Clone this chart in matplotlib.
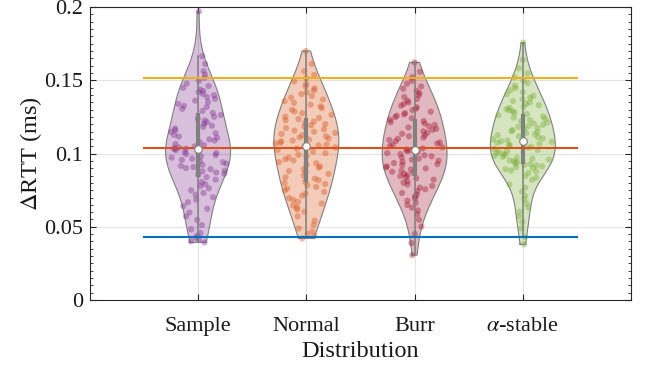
import numpy as np
import matplotlib
matplotlib.use("Agg")
import matplotlib.pyplot as plt
from matplotlib.ticker import MultipleLocator

plt.rcParams['font.family'] = ['Liberation Serif', 'DejaVu Serif']
plt.rcParams['mathtext.fontset'] = 'stix'

categories = ['Sample', 'Normal', 'Burr', r'$\alpha$-stable']

sample_vals = [0.0394, 0.0401, 0.0412, 0.0425, 0.0440, 0.0458, 0.0483,
               0.0512, 0.0547, 0.0571, 0.0598, 0.0623, 0.0641,
               0.0668, 0.0685, 0.0702, 0.0718, 0.0731, 0.0749, 0.0763, 0.0778, 0.0791, 0.0806, 0.0822, 0.0839,
               0.0856, 0.0862, 0.0871, 0.0879, 0.0884, 0.0893, 0.0901, 0.0908, 0.0916, 0.0923, 0.0931, 0.0940,
               0.0948, 0.0957, 0.0965, 0.0972, 0.0981, 0.0989, 0.0996, 0.1004, 0.1011, 0.1018, 0.1024, 0.1029, 0.1033,
               0.1038, 0.1042, 0.1049, 0.1057, 0.1066, 0.1078, 0.1089, 0.1097, 0.1108, 0.1116, 0.1127, 0.1139,
               0.1148, 0.1159, 0.1171, 0.1182, 0.1190, 0.1203, 0.1214, 0.1226, 0.1238, 0.1251, 0.1263, 0.1278, 0.1291,
               0.1305, 0.1318, 0.1326, 0.1339, 0.1352, 0.1361, 0.1374, 0.1386, 0.1398, 0.1407, 0.1419, 0.1428,
               0.1437, 0.1449, 0.1461, 0.1478, 0.1496, 0.1517, 0.1539, 0.1563,
               0.1612, 0.1664, 0.1970]

normal_vals = [0.0421, 0.0436, 0.0452, 0.0468, 0.0489, 0.0513, 0.0542, 0.0571,
               0.0603, 0.0618, 0.0632, 0.0645, 0.0659, 0.0671, 0.0684, 0.0697, 0.0712, 0.0726, 0.0738, 0.0749,
               0.0761, 0.0772, 0.0783, 0.0792, 0.0799,
               0.0807, 0.0818, 0.0829, 0.0838, 0.0849, 0.0861, 0.0872, 0.0881, 0.0893, 0.0904, 0.0912, 0.0923,
               0.0934, 0.0942, 0.0953, 0.0961, 0.0972, 0.0983, 0.0991, 0.1002, 0.1013, 0.1024, 0.1033, 0.1042, 0.1050,
               0.1056, 0.1062, 0.1069, 0.1075, 0.1083, 0.1089, 0.1096, 0.1103, 0.1111, 0.1118, 0.1126, 0.1134,
               0.1141, 0.1149, 0.1157, 0.1166, 0.1174, 0.1183, 0.1192, 0.1201, 0.1209, 0.1218, 0.1227, 0.1235, 0.1243,
               0.1252, 0.1264, 0.1276, 0.1287, 0.1299, 0.1311, 0.1322, 0.1334, 0.1346, 0.1358, 0.1369, 0.1381,
               0.1393, 0.1406, 0.1418, 0.1431, 0.1445, 0.1459, 0.1474, 0.1492, 0.1513, 0.1536, 0.1562, 0.1612, 0.1700]

burr_vals = [0.0307, 0.0389, 0.0451, 0.0502, 0.0548, 0.0586,
             0.0612, 0.0631, 0.0649, 0.0664, 0.0679, 0.0693, 0.0707, 0.0719, 0.0731, 0.0744, 0.0756, 0.0767,
             0.0779, 0.0789, 0.0801, 0.0812, 0.0822, 0.0831, 0.0839,
             0.0846, 0.0853, 0.0861, 0.0868, 0.0876, 0.0883, 0.0891, 0.0898, 0.0905, 0.0913, 0.0921, 0.0928,
             0.0935, 0.0943, 0.0951, 0.0958, 0.0966, 0.0973, 0.0981, 0.0988, 0.0996, 0.1003, 0.1011, 0.1017, 0.1022,
             0.1027, 0.1035, 0.1043, 0.1051, 0.1059, 0.1068, 0.1076, 0.1084, 0.1093, 0.1101, 0.1109, 0.1118,
             0.1126, 0.1135, 0.1143, 0.1152, 0.1161, 0.1169, 0.1178, 0.1187, 0.1196, 0.1205, 0.1214, 0.1222, 0.1231,
             0.1241, 0.1249, 0.1258, 0.1267, 0.1276, 0.1286, 0.1296, 0.1306, 0.1316, 0.1327, 0.1338, 0.1349,
             0.1361, 0.1373, 0.1386, 0.1399, 0.1413, 0.1427, 0.1442, 0.1458, 0.1476, 0.1496, 0.1521, 0.1558, 0.1622]

stable_vals = [0.0380, 0.0431, 0.0489, 0.0534, 0.0572, 0.0603, 0.0631, 0.0658, 0.0689,
               0.0712, 0.0741, 0.0768, 0.0789, 0.0821, 0.0835, 0.0847, 0.0868, 0.0877, 0.0885,
               0.0893, 0.0901, 0.0908, 0.0914, 0.0919, 0.0923,
               0.0929, 0.0935, 0.0941, 0.0947, 0.0953, 0.0959, 0.0965, 0.0971, 0.0977, 0.0983, 0.0990, 0.0997,
               0.1004, 0.1011, 0.1018, 0.1025, 0.1032, 0.1039, 0.1046, 0.1053, 0.1060, 0.1067, 0.1074, 0.1080, 0.1085,
               0.1090, 0.1097, 0.1104, 0.1111, 0.1118, 0.1125, 0.1132, 0.1139, 0.1146, 0.1153, 0.1160, 0.1167,
               0.1174, 0.1182, 0.1189, 0.1197, 0.1205, 0.1213, 0.1221, 0.1229, 0.1237, 0.1245, 0.1253, 0.1261, 0.1269,
               0.1279, 0.1287, 0.1295, 0.1303, 0.1312, 0.1321, 0.1330, 0.1339, 0.1349, 0.1359, 0.1370, 0.1381,
               0.1393, 0.1405, 0.1418, 0.1432, 0.1447, 0.1463, 0.1480, 0.1499, 0.1521, 0.1548, 0.1582, 0.1640, 0.1757]

ref_levels = [0.1513, 0.1035, 0.0432]
ref_colors = ['#EDB120', '#D95319', '#0072BD']
violin_colors = ['#7E2F8E', '#D95319', '#A2142F', '#77AC30']

datasets = [sample_vals, normal_vals, burr_vals, stable_vals]

fig = plt.figure(figsize=(6.46, 3.70), dpi=100)
ax = fig.add_axes([0.139, 0.189, 0.838, 0.792])

half_width = 0.3
gray = (0.5, 0.5, 0.5)

for i, (vals, col) in enumerate(zip(datasets, violin_colors)):
    pos = i + 1
    x = np.asarray(vals)
    n = len(x)
    sig = np.median(np.abs(x - np.median(x))) / 0.6745
    bw = sig * (4.0 / (3.0 * n)) ** 0.2
    grid = np.linspace(x.min(), x.max(), 300)
    dens = np.exp(-0.5 * ((grid[:, None] - x[None, :]) / bw) ** 2).sum(axis=1)
    dens = dens / dens.max() * half_width
    ax.fill_betweenx(grid, pos - dens, pos + dens, facecolor=col, alpha=0.3,
                     edgecolor='none', zorder=2)
    ax.plot(np.r_[pos - dens, (pos + dens)[::-1], pos - dens[0]],
            np.r_[grid, grid[::-1], grid[0]], color=gray, lw=0.8, zorder=3)
    # jittered scatter: deterministic hash for horizontal offsets (layout only)
    d_at = np.interp(x, grid, dens)
    k = np.arange(n) + 131.0 * i + 1.0
    u = (np.abs(np.sin(k * 12.9898) * 43758.5453) % 1.0) * 2 - 1
    ax.scatter(pos + u * d_at * 0.95, x, s=20, color=col, alpha=0.4,
               edgecolors='none', zorder=4)
    # box
    q1, med, q3 = np.percentile(x, [25, 50, 75])
    iqr = q3 - q1
    lo = x[x >= q1 - 1.5 * iqr].min()
    hi = x[x <= q3 + 1.5 * iqr].max()
    ax.plot([pos, pos], [lo, hi], color=gray, lw=1.1, zorder=5)
    ax.plot([pos, pos], [q1, q3], color=gray, lw=3.0, solid_capstyle='butt', zorder=5)

for lvl, c in zip(ref_levels, ref_colors):
    ax.plot([0.5, 4.5], [lvl, lvl], color=c, lw=1.5, zorder=6)

for i, vals in enumerate(datasets):
    ax.scatter([i + 1], [np.median(vals)], s=30, facecolor='white',
               edgecolor=gray, linewidth=0.8, zorder=7)

ax.set_xlim(0, 5)
ax.set_ylim(0, 0.2)
ax.set_xticks([1, 2, 3, 4])
ax.set_xticklabels(categories)
ax.set_yticks([0, 0.05, 0.1, 0.15, 0.2])
ax.set_yticklabels(['0', '0.05', '0.1', '0.15', '0.2'])
ax.yaxis.set_minor_locator(MultipleLocator(0.005))
ax.tick_params(which='both', direction='in', top=True, right=True,
               labelsize=16, colors=(0.15, 0.15, 0.15), labelcolor=(0.1, 0.1, 0.1))
ax.tick_params(axis='x', pad=12)
ax.tick_params(axis='y', pad=5)
ax.tick_params(which='major', length=4)
ax.tick_params(which='minor', length=2.2)
ax.tick_params(axis='x', which='minor', top=False, bottom=False)
ax.grid(True, which='major', color=(0.15, 0.15, 0.15), alpha=0.12, lw=0.8, zorder=0)
ax.set_axisbelow(True)
for s in ax.spines.values():
    s.set_color((0.15, 0.15, 0.15))
    s.set_linewidth(0.8)

ax.set_xlabel('Distribution', fontsize=17.5, labelpad=4, color=(0.1, 0.1, 0.1))
ax.set_ylabel(r'$\Delta$RTT (ms)', fontsize=17.5, labelpad=0, color=(0.1, 0.1, 0.1))

fig.savefig('out.png', dpi=100)
